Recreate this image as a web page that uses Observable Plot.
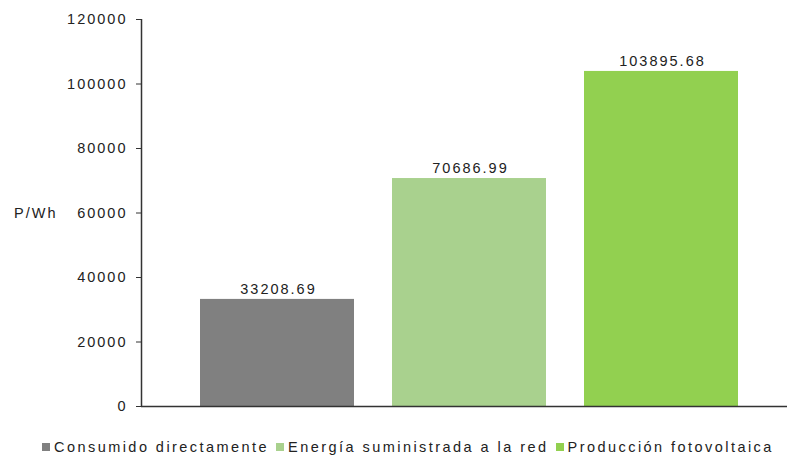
<!DOCTYPE html>
<html>
<head>
<meta charset="utf-8">
<script src="https://cdn.jsdelivr.net/npm/d3@7"></script>
<script src="https://cdn.jsdelivr.net/npm/@observablehq/plot@0.6"></script>
<style>
  html, body { margin: 0; padding: 0; background: #fff; }
  body { width: 787px; height: 457px; overflow: hidden; font-family: "Liberation Sans", Arial, sans-serif; }
  svg text { letter-spacing: 2px; }
  #legend { display: flex; gap: 0; margin-top: 21px; padding-left: 42px; font-size: 14.5px; color: #222; letter-spacing: 2.45px; }
  #legend .item { display: flex; align-items: center; margin-right: 7px; }
  #legend .sw { width: 8px; height: 8px; margin-right: 4px; }
</style>
</head>
<body>
<div id="chart"></div>
<div id="legend"></div>
<script>
const categories = ["Consumido directamente", "Energía suministrada a la red", "Producción fotovoltaica"];
const values = [33208.69, 70686.99, 103895.68];
const colors = ["#808080", "#a9d18e", "#92d050"];
const yTicks = [0, 20000, 40000, 60000, 80000, 100000, 120000];
const yLabel = "P/Wh";

const data = categories.map((c, i) => ({category: c, value: values[i], color: colors[i]}));

const W = 787, ML = 141, MR = 0;
const chart = Plot.plot({
  width: W,
  height: 418,
  marginLeft: ML,
  marginRight: MR,
  marginTop: 19,
  marginBottom: 12,
  style: { fontFamily: "Liberation Sans, Arial, sans-serif", fontSize: "14.5px", color: "#222", background: "#fff" },
  x: { domain: categories, range: [180.8, 756.8], paddingInner: 0.2, paddingOuter: 0.1, axis: null },
  y: { domain: [0, 120000], ticks: yTicks, label: null },
  marks: [
    Plot.barY(data, { x: "category", y: "value", fill: "color" }),
    Plot.text(data, { x: "category", y: "value", text: d => d.value.toFixed(2), dy: -10, dx: 1, fill: "#222", fontSize: 14.5 }),
    Plot.axisY({ ticks: yTicks, tickSize: 5, tickPadding: 9, tickFormat: d => String(d), stroke: "#333", fontSize: 14.5 }),
    Plot.ruleX([0], { x: null, dx: ML - (ML + W - MR) / 2, stroke: "#333", strokeWidth: 1.5 }),
    Plot.ruleY([0], { stroke: "#333", strokeWidth: 1.5 }),
    Plot.text([yLabel], { y: [60000], frameAnchor: "left", dx: -84, textAnchor: "end", fill: "#222", fontSize: 14.5 })
  ]
});
document.getElementById("chart").appendChild(chart);

const leg = document.getElementById("legend");
categories.forEach((c, i) => {
  const it = document.createElement("div");
  it.className = "item";
  it.innerHTML = `<span class="sw" style="background:${colors[i]}"></span><span>${c}</span>`;
  leg.appendChild(it);
});
</script>
</body>
</html>
